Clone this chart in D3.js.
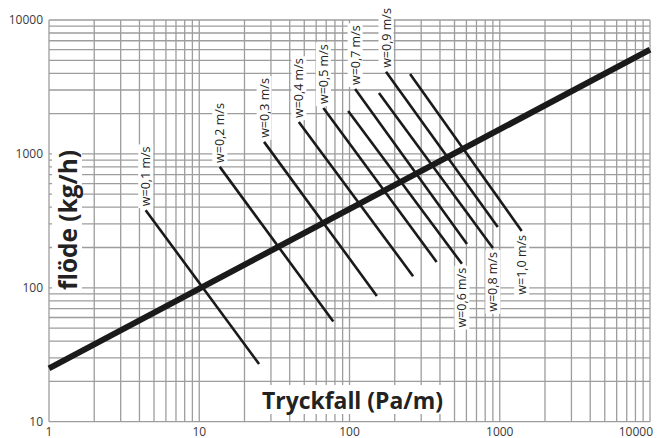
<!DOCTYPE html>
<html>
<head>
<meta charset="utf-8">
<script src="https://cdn.jsdelivr.net/npm/d3@7"></script>
<style>
  body { margin: 0; background: #fff; }
  text { font-family: "Open Sans", "Liberation Sans", Arial, sans-serif; }
</style>
</head>
<body>
<div id="chart"></div>
<script>
// values
// velocity lines: each one is a segment from a top end to a bottom end
const velocityLabels = ['w=0,1 m/s', 'w=0,2 m/s', 'w=0,3 m/s', 'w=0,4 m/s', 'w=0,5 m/s',
                        'w=0,6 m/s', 'w=0,7 m/s', 'w=0,8 m/s', 'w=0,9 m/s', 'w=1,0 m/s']
const topPressure = [4.4, 13.7, 27, 46, 67, 98, 109, 157, 175, 253]
const topFlow = [380, 800, 1230, 1730, 2200, 2090, 3050, 2850, 4100, 3950]
const bottomPressure = [25, 78, 152, 265, 380, 560, 605, 900, 970, 1400]
const bottomFlow = [27, 56, 87, 122, 156, 151, 212, 198, 284, 266]
// which end the label sits on
const labelOnTop = [true, true, true, true, true, false, true, false, true, false]

// the thick line
const mainPressure = [1, 10000]
const mainFlow = [25, 6000]

// tick labels
const xTicks = [1, 10, 100, 1000, 10000]
const yTicks = [10, 100, 1000, 10000]

const width = 658
const height = 438

const xScale = d3.scaleLog().domain([1, 10000]).range([49, 650])
const yScale = d3.scaleLog().domain([10, 10000]).range([421.7, 20])

const svg = d3.select('div#chart').append('svg')
  .attr('width', width)
  .attr('height', height)

// grid lines, every 1..9 of each decade
const gridColor = '#9d9d9d'
svg.append('g').attr('class', 'grid-x')
  .selectAll('line').data(xScale.ticks())
  .enter().append('line')
  .attr('x1', d => xScale(d)).attr('x2', d => xScale(d))
  .attr('y1', yScale(10000)).attr('y2', yScale(10))
  .attr('stroke', gridColor).attr('stroke-width', 1.3)
svg.append('g').attr('class', 'grid-y')
  .selectAll('line').data(yScale.ticks())
  .enter().append('line')
  .attr('y1', d => yScale(d)).attr('y2', d => yScale(d))
  .attr('x1', xScale(1)).attr('x2', xScale(10000))
  .attr('stroke', gridColor).attr('stroke-width', 1.3)

// tick labels
svg.append('g').selectAll('text').data(yTicks)
  .enter().append('text')
  .attr('x', 43)
  .attr('y', d => yScale(d))
  .attr('dy', '0.36em')
  .attr('text-anchor', 'end')
  .attr('font-size', '12px')
  .attr('fill', '#3a3a3a')
  .text(d => d)
svg.append('g').selectAll('text').data(xTicks)
  .enter().append('text')
  .attr('x', d => d === 10000 ? 653 : xScale(d))
  .attr('y', 435.5)
  .attr('text-anchor', d => d === 10000 ? 'end' : 'middle')
  .attr('font-size', '12px')
  .attr('fill', '#3a3a3a')
  .text(d => d)

// build the segments from the arrays
const segments = velocityLabels.map((label, i) => ({
  label: label,
  x1: topPressure[i], y1: topFlow[i],
  x2: bottomPressure[i], y2: bottomFlow[i],
  top: labelOnTop[i]
}))

svg.append('g').attr('class', 'velocity')
  .selectAll('line').data(segments)
  .enter().append('line')
  .attr('x1', d => xScale(d.x1)).attr('y1', d => yScale(d.y1))
  .attr('x2', d => xScale(d.x2)).attr('y2', d => yScale(d.y2))
  .attr('stroke', '#1a1a1a').attr('stroke-width', 2.6)

// thick flow line
const line = d3.line().x(d => xScale(d[0])).y(d => yScale(d[1]))
svg.append('path')
  .datum(d3.zip(mainPressure, mainFlow))
  .attr('d', line)
  .attr('fill', 'none')
  .attr('stroke', '#1a1a1a')
  .attr('stroke-width', 6)

// rotated labels with a white box behind
const labels = svg.append('g').selectAll('g').data(segments)
  .enter().append('g')
  .attr('transform', d => {
    const px = d.top ? xScale(d.x1) : xScale(d.x2)
    const py = d.top ? yScale(d.y1) - 4 : yScale(d.y2) + 4
    return 'translate(' + px + ',' + py + ') rotate(-90)'
  })
labels.append('rect').attr('fill', '#fff')
labels.append('text')
  .attr('text-anchor', d => d.top ? 'start' : 'end')
  .attr('dy', '0.36em')
  .attr('font-size', '12.5px')
  .attr('fill', '#222')
  .text(d => d.label)
labels.each(function() {
  const g = d3.select(this)
  const b = g.select('text').node().getBBox()
  g.select('rect')
    .attr('x', b.x - 2).attr('y', b.y + 1)
    .attr('width', b.width + 4).attr('height', b.height - 2)
})

// axis titles, also on white
function title(x, y, rotate, anchor, size, len, str) {
  const g = svg.append('g').attr('transform', 'translate(' + x + ',' + y + ')' + (rotate ? ' rotate(-90)' : ''))
  const r = g.append('rect').attr('fill', '#fff')
  const t = g.append('text')
    .attr('text-anchor', anchor)
    .attr('font-size', size)
    .attr('font-weight', 'bold')
    .attr('fill', '#222')
    .attr('textLength', len)
    .attr('lengthAdjust', 'spacingAndGlyphs')
    .text(str)
  const b = t.node().getBBox()
  r.attr('x', b.x - 3).attr('y', b.y + 2).attr('width', b.width + 6).attr('height', b.height - 4)
}
title(262, 409, false, 'start', '24px', 181, 'Tryckfall (Pa/m)')
title(77, 220, true, 'middle', '25px', 140, 'flöde (kg/h)')
</script>
</body>
</html>
